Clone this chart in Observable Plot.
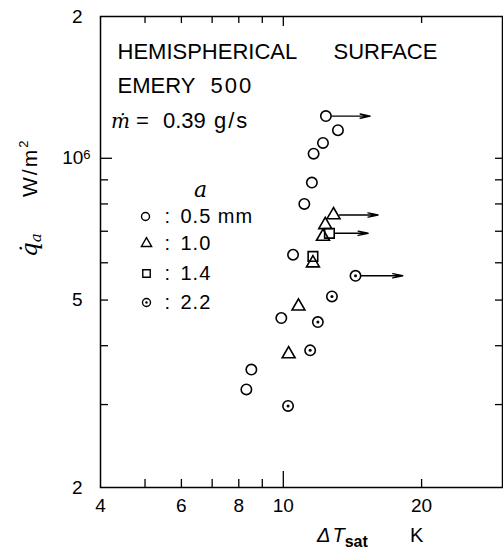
<!DOCTYPE html>
<html><head><meta charset="utf-8">
<script src="https://cdn.jsdelivr.net/npm/d3@7"></script>
<script src="https://cdn.jsdelivr.net/npm/@observablehq/plot@0.6"></script>
<style>
html,body{margin:0;padding:0;background:#fff}
#chart svg{display:block}
</style>
</head><body><div id="chart"></div>
<script>
// ---- data (ΔT_sat in K, q_a in W/m²) ----
const circle05_dT = [12.38, 13.15, 12.20, 11.64, 11.54, 11.11, 10.50, 9.90, 8.52, 8.31];
const circle05_q  = [1.229e6, 1.147e6, 1.078e6, 1.023e6, 8.88e5, 8.0e5, 6.24e5, 4.58e5, 3.56e5, 3.23e5];
const tri10_dT = [12.86, 12.34, 12.20, 11.60, 10.79, 10.27];
const tri10_q  = [7.58e5, 7.22e5, 6.82e5, 5.99e5, 4.85e5, 3.84e5];
const sq14_dT = [12.60, 11.60];
const sq14_q  = [6.93e5, 6.19e5];
const dot22_dT = [14.36, 12.76, 11.89, 11.44, 10.24];
const dot22_q  = [5.63e5, 5.09e5, 4.49e5, 3.91e5, 2.98e5];
// horizontal arrows: start point and end ΔT
const arrow_dT  = [12.38, 12.86, 12.60, 14.36];
const arrow_q   = [1.229e6, 7.58e5, 6.93e5, 5.63e5];
const arrow_end = [15.46, 16.08, 15.30, 18.20];
// axes
const xTickLabels = [4, 6, 8, 10, 20];
const xMinorTicks = [5, 6, 7, 8, 9, 20];
const xMajorTick = [10];
const yTickLabels = [2e5, 5e5, 1e6, 2e6];
const yTickText = ["2", "5", "10^6", "2"];
const yMinorTicks = [3e5, 4e5, 5e5, 6e5, 7e5, 8e5, 9e5];
const yMajorTick = [1e6];
const legendLabels = ["0.5 mm", "1.0", "1.4", "2.2"];
const headerLines = ["HEMISPHERICAL", "SURFACE", "EMERY", "500"];

// ---- layout ----
const W = 503, H = 552, mL = 100, mR = 1, mT = 16, mB = 65;
const pw = W - mL - mR, ph = H - mT - mB;
const zip = (xs, ys) => xs.map((x, i) => ({x, y: ys[i]}));
const arrows = arrow_dT.map((x, i) => ({x, y: arrow_q[i], x2: arrow_end[i]}));
const font = "'Liberation Sans', Arial, sans-serif";
const serif = "'DejaVu Serif', 'Liberation Serif', serif";
const sym = {stroke: "#000", fill: "none", strokeWidth: 1.6};
const legY = [200, 227, 257, 286];
const TL = {frameAnchor: "top-left", textAnchor: "start", lineAnchor: "middle"};

const chart = Plot.plot({
  width: W, height: H,
  marginLeft: mL, marginRight: mR, marginTop: mT, marginBottom: mB,
  x: {type: "log", domain: [4, 30], axis: null},
  y: {type: "log", domain: [2e5, 2e6], axis: null},
  style: {fontFamily: font, fontSize: "19px", color: "#000", background: "#fff"},
  marks: [
    Plot.frame({stroke: "#000", strokeWidth: 1.5}),
    // inward ticks
    Plot.tickX(xMinorTicks, {x: d => d, insetTop: ph - 8, strokeWidth: 1.3}),
    Plot.tickX(xMajorTick, {x: d => d, insetTop: ph - 16, strokeWidth: 1.3}),
    Plot.tickX(xMinorTicks, {x: d => d, insetBottom: ph - 7, strokeWidth: 1.3}),
    Plot.tickX(xMajorTick, {x: d => d, insetBottom: ph - 10, strokeWidth: 1.3}),
    Plot.tickY(yMinorTicks, {y: d => d, insetRight: pw - 8, strokeWidth: 1.3}),
    Plot.tickY(yMajorTick, {y: d => d, insetRight: pw - 12, strokeWidth: 1.3}),
    Plot.tickY(yMinorTicks.concat(yMajorTick), {y: d => d, insetLeft: pw - 7, strokeWidth: 1.3}),
    // tick labels
    Plot.text(xTickLabels, {x: d => d, frameAnchor: "bottom", lineAnchor: "top", dy: 11, text: d => String(d), fontSize: 19}),
    Plot.text(yTickLabels, {y: d => d, frameAnchor: "left", textAnchor: "end", lineAnchor: "middle", dx: -18, text: (d, i) => yTickText[i], fontSize: 19}),
    // arrows
    Plot.arrow(arrows, {x1: "x", y1: "y", x2: "x2", y2: "y", insetStart: 6, headLength: 11, headAngle: 24, stroke: "#000", strokeWidth: 1.4}),
    // data
    Plot.dot(zip(circle05_dT, circle05_q), {x: "x", y: "y", r: 5.2, ...sym}),
    Plot.dot(zip(tri10_dT, tri10_q), {x: "x", y: "y", r: 4.8, symbol: "triangle", ...sym}),
    Plot.dot(zip(sq14_dT, sq14_q), {x: "x", y: "y", r: 5.4, symbol: "square", ...sym}),
    Plot.dot(zip(dot22_dT, dot22_q), {x: "x", y: "y", r: 5.2, ...sym}),
    Plot.dot(zip(dot22_dT, dot22_q), {x: "x", y: "y", r: 1.5, fill: "#000", stroke: "none"}),
    // header text
    Plot.text([headerLines[0]], {...TL, dx: 17, dy: 35, fontSize: 22}),
    Plot.text([headerLines[1]], {...TL, dx: 233, dy: 35, fontSize: 22}),
    Plot.text([headerLines[2]], {...TL, dx: 17, dy: 69, fontSize: 22}),
    Plot.text([headerLines[3]], {...TL, dx: 110, dy: 69, fontSize: 22}),
    // legend
    Plot.text(["a"], {frameAnchor: "top-left", textAnchor: "middle", lineAnchor: "middle", dx: 100, dy: 173, fontSize: 22, fontStyle: "italic", fontFamily: serif}),
    Plot.dot([0], {frameAnchor: "top-left", dx: 45, dy: legY[0], r: 4, ...sym, strokeWidth: 1.4}),
    Plot.dot([0], {frameAnchor: "top-left", dx: 46, dy: legY[1], r: 3.8, symbol: "triangle", ...sym, strokeWidth: 1.4}),
    Plot.dot([0], {frameAnchor: "top-left", dx: 46, dy: legY[2], r: 4.2, symbol: "square", ...sym, strokeWidth: 1.4}),
    Plot.dot([0], {frameAnchor: "top-left", dx: 46, dy: legY[3], r: 4, ...sym, strokeWidth: 1.4}),
    Plot.dot([0], {frameAnchor: "top-left", dx: 46, dy: legY[3], r: 1.2, fill: "#000", stroke: "none"}),
    ...legendLabels.map((t, i) => Plot.text([":"], {...TL, dx: 64, dy: legY[i], fontSize: 20})),
    ...legendLabels.map((t, i) => Plot.text([t], {...TL, dx: 80, dy: legY[i], fontSize: 20}))
  ]
});
document.getElementById("chart").appendChild(chart);

// ---- text refinements ----
const svg = d3.select(chart);
svg.selectAll("text").filter(function() { return this.textContent === "10^6"; }).each(function() {
  const t = d3.select(this);
  t.text(null);
  t.append("tspan").text("10");
  t.append("tspan").attr("dy", "-0.45em").attr("font-size", "13px").text("6");
  t.attr("transform", ((t.attr("transform") || "") + " translate(8,0)").trim());
});
svg.selectAll("text").filter(function() { return legendLabels.includes(this.textContent); }).attr("letter-spacing", 1);
svg.selectAll("text").filter(function() { return this.textContent === "500"; }).attr("letter-spacing", 2);

// m-dot line
const mline = svg.append("text").attr("y", 128).attr("font-size", 22).attr("font-family", font).attr("text-anchor", "start");
mline.append("tspan").attr("x", 111).attr("font-family", serif).attr("font-style", "italic").attr("font-size", 20).text("ṁ");
mline.append("tspan").attr("x", 136).text("=");
mline.append("tspan").attr("x", 163).text("0.39");
mline.append("tspan").attr("x", 214).attr("letter-spacing", 2).text("g/s");

// y axis label (rotated, reads upward)
const yl = svg.append("text").attr("transform", "translate(37,257) rotate(-90)").attr("font-family", font).attr("font-size", 21).attr("text-anchor", "start");
yl.append("tspan").attr("font-family", serif).attr("font-style", "italic").attr("font-size", 23).text("q̇");
yl.append("tspan").attr("font-family", serif).attr("font-style", "italic").attr("font-size", 15).attr("dy", 4).text("a");
yl.append("tspan").attr("x", 60).attr("dy", -4).attr("letter-spacing", 2).text("W/m");
yl.append("tspan").attr("font-size", 13).attr("dy", -9).text("2");

// x axis label
const xl = svg.append("text").attr("x", 317).attr("y", 542).attr("font-family", font).attr("font-size", 20).attr("text-anchor", "start");
xl.append("tspan").attr("font-style", "italic").text("Δ");
xl.append("tspan").attr("font-style", "italic").attr("dx", 2).text("T");
xl.append("tspan").attr("font-size", 16).attr("dy", 5).attr("font-weight", "bold").text("sat");
svg.append("text").attr("x", 410).attr("y", 542).attr("font-family", font).attr("font-size", 20).attr("text-anchor", "start").text("K");
</script>
</body></html>
